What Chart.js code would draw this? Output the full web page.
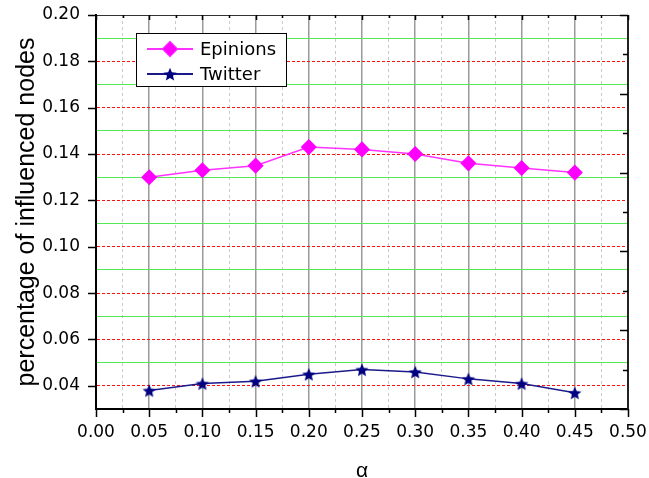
<!DOCTYPE html>
<html>
<head>
<meta charset="utf-8">
<script src="https://cdn.jsdelivr.net/npm/chart.js@4.4.0/dist/chart.umd.min.js"></script>
<style>
  html, body { margin: 0; padding: 0; background: #fff; }
  #wrap { width: 649px; height: 478px; }
</style>
</head>
<body>
<div id="wrap"><canvas id="chart" width="649" height="478"></canvas></div>
<script>
// valores
const alphas = [0.05, 0.10, 0.15, 0.20, 0.25, 0.30, 0.35, 0.40, 0.45];
const epinions = [0.130, 0.133, 0.135, 0.143, 0.142, 0.140, 0.136, 0.134, 0.132];
const twitter = [0.038, 0.041, 0.042, 0.045, 0.047, 0.046, 0.043, 0.041, 0.037];
const seriesNames = ["Epinions", "Twitter"];
const xTitle = "α";
const yTitle = "percentage of influenced nodes";

const tickFont = { family: "DejaVu Sans", size: 17 };

// estrella rellena para Twitter
function makeStar(r, color) {
    const s = Math.ceil(r * 2) + 2;
    const c = document.createElement("canvas");
    c.width = s; c.height = s;
    const g = c.getContext("2d");
    g.fillStyle = color;
    g.beginPath();
    for (let i = 0; i < 10; i++) {
        const rad = i % 2 === 0 ? r : r * 0.45;
        const a = -Math.PI / 2 + i * Math.PI / 5;
        const px = s / 2 + rad * Math.cos(a), py = s / 2 + rad * Math.sin(a) + 0.8;
        if (i === 0) g.moveTo(px, py); else g.lineTo(px, py);
    }
    g.closePath();
    g.fill();
    return c;
}
const starImg = makeStar(7, "#000080");

const toPoints = ys => alphas.map((a, i) => ({ x: a, y: ys[i] }));

// quitar el relleno extra que Chart.js reserva para las etiquetas
const noPad = s => { s.paddingTop = 0; s.paddingBottom = 0; s.paddingLeft = 0; s.paddingRight = 0; };

// ejes, marcas y leyenda
const framePlugin = {
    id: "frame",
    afterDraw(chart) {
        const { ctx, chartArea: ca, scales } = chart;
        const xs = scales.x, ys = scales.y, y2 = scales.y2;
        ctx.save();
        // borde superior y derecho
        ctx.lineWidth = 1;
        ctx.strokeStyle = "#333";
        ctx.beginPath();
        ctx.moveTo(ca.left, ca.top + 0.5);
        ctx.lineTo(ca.right, ca.top + 0.5);
        ctx.stroke();
        ctx.lineWidth = 2;
        ctx.strokeStyle = "#222";
        ctx.beginPath();
        ctx.moveTo(ca.right, ca.top);
        ctx.lineTo(ca.right, ca.bottom);
        ctx.stroke();

        ctx.strokeStyle = "#000";
        ctx.lineWidth = 1.5;
        ctx.beginPath();
        xs.ticks.forEach(t => {
            const px = Math.round(xs.getPixelForValue(t.value)) + 0.5;
            const major = Math.round(t.value * 1000) % 50 === 0;
            ctx.moveTo(px, ca.bottom);
            ctx.lineTo(px, ca.bottom + (major ? 8 : 4));
            ctx.moveTo(px, ca.top);
            ctx.lineTo(px, ca.top + (major ? 5 : 3));
        });
        ys.ticks.forEach(t => {
            if (Math.round(t.value * 100) % 2 !== 0) return;
            const py = Math.round(ys.getPixelForValue(t.value)) + 0.5;
            ctx.moveTo(ca.left - 8, py);
            ctx.lineTo(ca.left, py);
        });
        y2.ticks.forEach(t => {
            const py = Math.round(y2.getPixelForValue(t.value)) + 0.5;
            const major = Math.round(t.value) % 2 === 0;
            ctx.moveTo(ca.right, py);
            ctx.lineTo(ca.right - (major ? 8 : 5), py);
        });
        ctx.stroke();

        // leyenda
        const lx = 136, ly = 33, lw = 150, lh = 53;
        ctx.fillStyle = "#fff";
        ctx.fillRect(lx, ly, lw, lh);
        ctx.lineWidth = 1;
        ctx.strokeStyle = "#000";
        ctx.strokeRect(lx + 0.5, ly + 0.5, lw, lh);
        const ds = chart.data.datasets;
        ds.forEach((d, i) => {
            const cy = ly + 16 + i * 25;
            ctx.strokeStyle = d.borderColor;
            ctx.lineWidth = 2;
            ctx.beginPath();
            ctx.moveTo(lx + 11, cy);
            ctx.lineTo(lx + 57, cy);
            ctx.stroke();
            if (d.pointStyle === "rectRot") {
                ctx.beginPath();
                Chart.helpers.drawPoint(ctx, { pointStyle: "rectRot", radius: 7, borderWidth: 1 }, lx + 34, cy);
                ctx.fillStyle = d.pointBackgroundColor;
                ctx.fill();
            } else {
                ctx.drawImage(d.pointStyle, lx + 34 - d.pointStyle.width / 2, cy - d.pointStyle.height / 2);
            }
            ctx.fillStyle = "#000";
            ctx.font = "18px 'DejaVu Sans'";
            ctx.textBaseline = "middle";
            ctx.textAlign = "left";
            ctx.fillText(d.label, lx + 64, cy + 1);
        });
        ctx.restore();
    }
};

const ctx = document.getElementById("chart").getContext("2d");
const chart = new Chart(ctx, {
    type: "line",
    data: {
        datasets: [
            {
                label: seriesNames[0],
                data: toPoints(epinions),
                borderColor: "#ff33ff",
                backgroundColor: "#ff00ff",
                pointBackgroundColor: "#ff00ff",
                pointBorderColor: "#ff00ff",
                pointStyle: "rectRot",
                pointRadius: 7,
                borderWidth: 1.5,
                tension: 0,
            },
            {
                label: seriesNames[1],
                data: toPoints(twitter),
                borderColor: "#1a1a8c",
                backgroundColor: "#000080",
                pointBackgroundColor: "#000080",
                pointStyle: starImg,
                pointRadius: 7,
                borderWidth: 1.5,
                tension: 0,
            },
        ],
    },
    options: {
        responsive: false,
        animation: false,
        devicePixelRatio: 1,
        layout: { padding: { top: 15, right: 21, left: 0, bottom: 0 } },
        plugins: {
            legend: { display: false },
            tooltip: { enabled: false },
        },
        scales: {
            x: {
                type: "linear",
                min: 0,
                max: 0.5,
                afterFit: s => { s.height = 69; noPad(s); },
                ticks: {
                    stepSize: 0.025,
                    maxTicksLimit: 40,
                    autoSkip: false,
                    maxRotation: 0,
                    padding: 13,
                    color: "#000",
                    font: tickFont,
                    callback: v => Math.round(v * 1000) % 50 === 0 ? v.toFixed(2) : "",
                },
                grid: {
                    drawTicks: false,
                    lineWidth: c => Math.round(c.tick.value * 1000) % 50 === 0 ? 1.5 : 1,
                    color: c => {
                        const k = Math.round(c.tick.value * 1000);
                        if (k === 0 || k === 500) return "rgba(0,0,0,0)";
                        return k % 50 === 0 ? "#9a9a9a" : "#c8c8c8";
                    },
                },
                border: {
                    color: "#000",
                    width: 2,
                    dash: c => Math.round(c.tick.value * 1000) % 50 === 0 ? [] : [3, 3],
                },
                title: {
                    display: true,
                    text: xTitle,
                    color: "#000",
                    font: { family: "Liberation Sans", size: 21, lineHeight: 0.6 },
                    padding: { top: 0, bottom: 0 },
                },
            },
            y: {
                min: 0.03,
                max: 0.20,
                afterFit: s => { s.width = 96; noPad(s); },
                ticks: {
                    stepSize: 0.01,
                    maxTicksLimit: 40,
                    autoSkip: false,
                    padding: 16,
                    color: "#000",
                    font: tickFont,
                    callback: v => Math.round(v * 100) % 2 === 0 ? v.toFixed(2) : "",
                },
                grid: {
                    drawTicks: false,
                    lineWidth: 1,
                    color: c => {
                        const k = Math.round(c.tick.value * 100);
                        if (k === 3 || k === 20) return "rgba(0,0,0,0)";
                        return k % 2 === 0 ? "#ff1010" : "#55e855";
                    },
                },
                border: {
                    color: "#000",
                    width: 2,
                    dash: c => Math.round(c.tick.value * 100) % 2 === 0 ? [3, 2] : [],
                },
                title: {
                    display: true,
                    text: yTitle,
                    color: "#000",
                    font: { family: "Liberation Sans", size: 25 },
                    padding: { top: 12, bottom: 0 },
                },
            },
            y2: {
                display: false,
                position: "right",
                min: 0,
                max: 10,
                ticks: { stepSize: 1 },
            },
        },
    },
    plugins: [framePlugin],
});
</script>
</body>
</html>
